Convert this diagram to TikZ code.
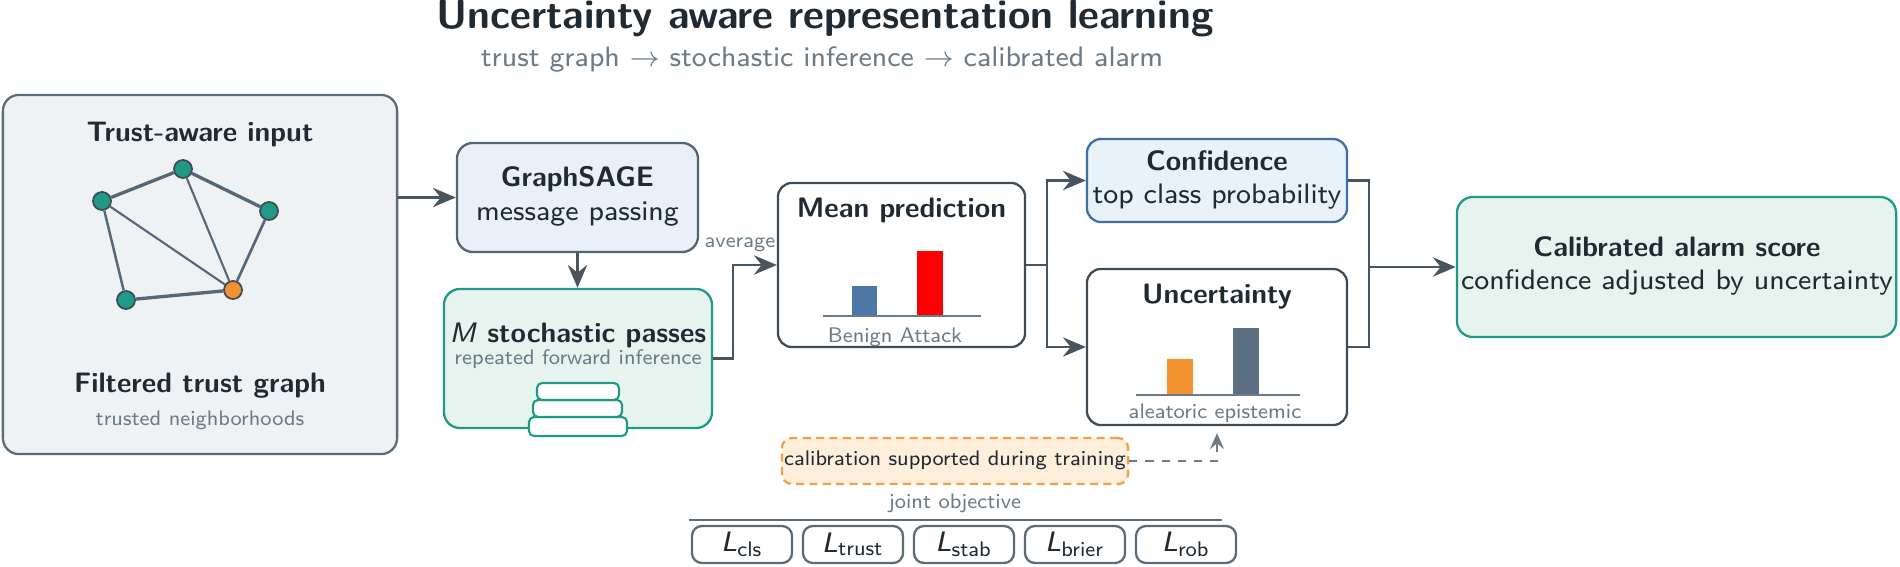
\documentclass[tikz,border=0pt]{standalone}
\usetikzlibrary{arrows.meta}
\renewcommand{\familydefault}{\sfdefault}
\definecolor{ink}{HTML}{1F2A33}
\definecolor{mute}{HTML}{6B7C88}
\definecolor{frame}{HTML}{5C6B75}
\definecolor{wire}{HTML}{46555F}
\definecolor{deep}{HTML}{3F4C55}
\definecolor{tealc}{HTML}{1F9A86}
\definecolor{tealfill}{HTML}{E6F3EF}
\definecolor{bluec}{HTML}{3F6FA6}
\definecolor{bluefill}{HTML}{E9F1F9}
\definecolor{sagefill}{HTML}{E9F0F7}
\definecolor{sageline}{HTML}{506575}
\definecolor{infill}{HTML}{EEF2F5}
\definecolor{hot}{HTML}{F29130}
\definecolor{warmfill}{HTML}{FDEFDB}
\definecolor{warmline}{HTML}{F0A048}
\definecolor{barblue}{HTML}{4C78A8}
\definecolor{bargray}{HTML}{5B6F82}
\definecolor{edgec}{HTML}{55687A}

\begin{document}
\begin{tikzpicture}[x=0.01cm, y=-0.01cm,
  box/.style={draw, rounded corners=0.16cm, line width=0.65pt, inner sep=0},
  lossbox/.style={draw=frame, fill=white, rounded corners=0.1cm, line width=0.65pt,
    minimum width=1cm, minimum height=0.37cm, inner sep=0, font=\fontsize{8}{10}\selectfont, text=ink},
  conn/.style={draw=wire, line width=0.7pt, -{Stealth[length=6.5pt,width=5.5pt,inset=2.2pt]}},
  line/.style={draw=wire, line width=0.7pt},
  dashconn/.style={draw=mute, line width=0.65pt, dash pattern=on 2.3pt off 2.3pt,
    -{Stealth[length=4.5pt,width=4pt,inset=1.6pt]}},
  axis/.style={draw=mute, line width=0.6pt},
  vert/.style={circle, draw=deep, fill=tealc, line width=0.5pt, minimum size=0.18cm, inner sep=0},
  edge/.style={draw=edgec},
  layer/.style={draw=tealc, fill=white, line width=0.6pt, rounded corners=0.05cm},
  ttl/.style={anchor=base, inner sep=0, text=ink, font=\fontsize{11.6}{14}\selectfont\bfseries},
  subt/.style={anchor=base, inner sep=0, text=mute, font=\fontsize{8}{10}\selectfont},
  head/.style={anchor=base, inner sep=0, text=ink, font=\fontsize{8}{10}\selectfont\bfseries},
  body/.style={anchor=base, inner sep=0, text=ink, font=\fontsize{8}{10}\selectfont},
  note/.style={anchor=base, inner sep=0, text=mute, font=\fontsize{6}{7}\selectfont}]
\useasboundingbox (0,0) rectangle (1900,567);

% title
\node[ttl] (title) at (825,29) {Uncertainty aware representation learning};
\node[subt] (subtitle) at (822,67) {trust graph $\rightarrow$ stochastic inference $\rightarrow$ calibrated alarm};

% main boxes
\node[box, draw=frame, fill=infill, minimum width=3.94cm, minimum height=3.59cm] (input) at (200,274.5) {};
\node[box, draw=sageline, fill=sagefill, minimum width=2.41cm, minimum height=1.09cm] (sage) at (577.5,197.5) {};
\node[box, draw=tealc, fill=tealfill, minimum width=2.68cm, minimum height=1.39cm] (passes) at (578,358.5) {};
\node[box, draw=deep, fill=white, rounded corners=0.14cm, minimum width=2.47cm, minimum height=1.64cm] (mean) at (901.5,265) {};
\node[box, draw=bluec, fill=bluefill, rounded corners=0.14cm, minimum width=2.6cm, minimum height=0.83cm] (conf) at (1217,180.5) {};
\node[box, draw=deep, fill=white, rounded corners=0.14cm, minimum width=2.6cm, minimum height=1.56cm] (unc) at (1217,347) {};
\node[box, draw=tealc, fill=tealfill, minimum width=4.39cm, minimum height=1.4cm] (alarm) at (1676.5,267) {};
\node[box, draw=warmline, fill=warmfill, dash pattern=on 2.3pt off 1.5pt, rounded corners=0.1cm,
  minimum width=3.46cm, minimum height=0.46cm] (calib) at (955,461) {};

% trust graph
\foreach \n/\x/\y in {ga/102/201, gb/183/169, gc/269/211, gd/126/300}
  \node[vert] (\n) at (\x,\y) {};
\node[vert, fill=hot] (ge) at (233,290) {};
\foreach \u/\v/\w in {ga/gb/0.95, gb/gc/0.95, gd/ge/0.95, ga/gd/0.7, gc/ge/0.75, ga/ge/0.6, gb/ge/0.6}
  \draw[edge, line width=\w pt] (\u) -- (\v);

\node[head] (inhead) at (200,142) {Trust-aware input};
\node[head] (infoot) at (200,392) {Filtered trust graph};
\node[note] (innote) at (200,425) {trusted neighborhoods};

\node[head] (sagehead) at (577.5,187) {GraphSAGE};
\node[body] (sagebody) at (577.5,221) {message passing};

\node[head] (passhead) at (578,342) {\textmd{\itshape M} stochastic passes};
\node[note] (passnote) at (578,364) {repeated forward inference};
\foreach \l/\r/\t/\b in {529/627/417/436, 533/622/400/417, 537/619/383/400}
  \draw[layer] (\l,\t) rectangle (\r,\b);

% mean prediction
\node[head] (meanhead) at (901.5,218) {Mean prediction};
\fill[barblue] (852,316) rectangle (877,286);
\fill[red] (917,316) rectangle (943,251);
\draw[axis] (823,316) -- (981,316);
\node[note] (meannote) at (895,342) {Benign Attack};

% confidence and uncertainty
\node[head] (confhead) at (1217,170) {Confidence};
\node[body] (confbody) at (1217,204) {top class probability};
\node[head] (unchead) at (1217,304) {Uncertainty};
\fill[hot] (1167,395) rectangle (1193,359);
\fill[bargray] (1233,395) rectangle (1259,328);
\draw[axis] (1136,395) -- (1300,395);
\node[note] (uncnote) at (1215,418) {aleatoric epistemic};

\node[head] (alarmhead) at (1677,257) {Calibrated alarm score};
\node[body] (alarmbody) at (1677,290) {confidence adjusted by uncertainty};

\node[note, text=ink] (calibtext) at (955,465) {calibration supported during training};

% connectors
\draw[conn] (input.east |- sage.west) -- (sage.west);
\draw[conn] (sage.south) -- (sage.south |- passes.north);
\coordinate (avg) at (733,265);
\draw[conn] (passes.east) -| (avg) -- (mean.west);
\node[note] (avglbl) at (740,248) {average};
\coordinate (split) at (1047,265);
\draw[line] (mean.east |- split) -- (split);
\draw[conn] (split) |- (conf.west);
\draw[conn] (split) |- (unc.west);
\coordinate (merge) at (1369,267);
\draw[line] (conf.east) -| (merge);
\draw[line] (unc.east) -| (merge);
\draw[conn] (merge) -- (merge -| alarm.west);
\draw[dashconn, shorten >=2pt] (calib.east) -| (unc.south);

% joint objective
\node[note] (jointlbl) at (955,508) {joint objective};
\coordinate (rulel) at (689,520);
\coordinate (ruler) at (1222,520);
\draw[line, draw=frame, line width=0.8pt] (rulel) -- (ruler);
\foreach \s [count=\i from 0] in {cls,trust,stab,brier,rob}
  \node[lossbox] (loss\s) at ({742+111*\i},544.5) {{\itshape L}\textsubscript{\s}};
\end{tikzpicture}
\end{document}
